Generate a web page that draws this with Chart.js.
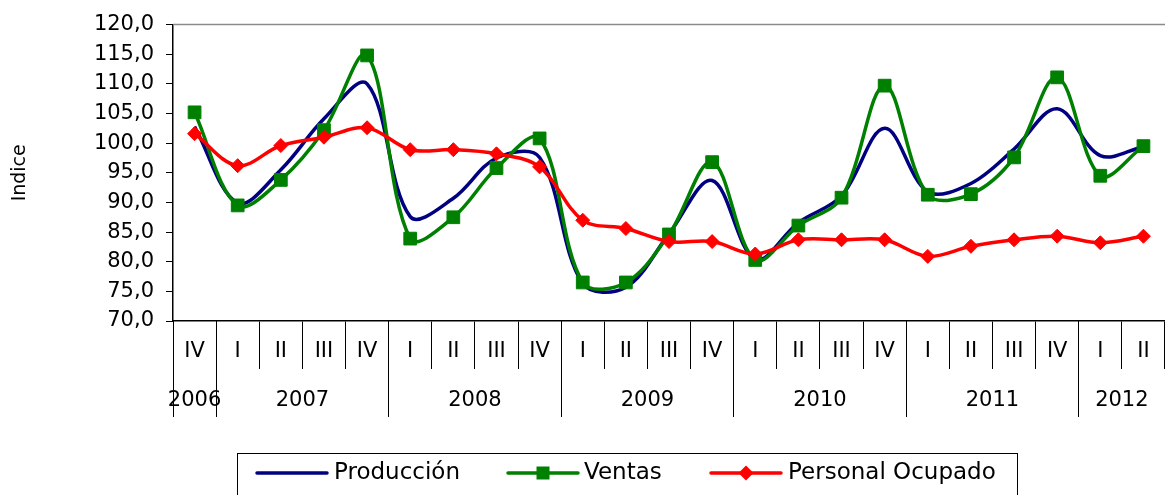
<!DOCTYPE html>
<html>
<head>
<meta charset="utf-8">
<script src="https://cdn.jsdelivr.net/npm/chart.js@4/dist/chart.umd.min.js"></script>
<style>
html,body{margin:0;padding:0;overflow:hidden;background:#fff;width:1165px;height:495px;}
#wrap{position:absolute;left:0;top:0;width:1175px;height:495px;}
</style>
</head>
<body>
<div id="wrap"><canvas id="c"></canvas></div>
<script>
// ---- data ----
const quarters = ['IV','I','II','III','IV','I','II','III','IV','I','II','III','IV','I','II','III','IV','I','II','III','IV','I','II'];
const years = ['2006','2007','2008','2009','2010','2011','2012'];
const produccion = [102.8, 89.9, 95.5, 104.1, 110.0, 87.6, 90.7, 97.5, 97.6, 76.3, 75.7, 84.7, 93.7, 80.4, 86.6, 91.1, 102.5, 91.8, 93.2, 99.0, 105.8, 97.9, 99.4];
const ventas = [105.2, 89.5, 93.8, 102.2, 114.8, 83.9, 87.5, 95.8, 100.8, 76.5, 76.5, 84.6, 96.8, 80.3, 86.1, 90.8, 109.7, 91.3, 91.4, 97.6, 111.1, 94.5, 99.5];
const personal = [101.6, 96.2, 99.6, 101.0, 102.6, 98.9, 98.9, 98.2, 96.0, 87.0, 85.6, 83.4, 83.4, 81.3, 83.7, 83.7, 83.7, 80.9, 82.6, 83.7, 84.3, 83.2, 84.3];
const yTickValues = [70, 75, 80, 85, 90, 95, 100, 105, 110, 115, 120];
const seriesNames = ['Producción', 'Ventas', 'Personal Ocupado'];

// ---- year groups derived from quarter labels ----
const yearGroups = [];
quarters.forEach((q, i) => {
  if (i === 0 || q === 'I') yearGroups.push({label: years[yearGroups.length], start: i, end: i});
  else yearGroups[yearGroups.length - 1].end = i;
});
const yearTicks = [];
yearGroups.forEach(g => {
  yearTicks.push({value: g.start - 0.5, lab: ''});
  yearTicks.push({value: (g.start + g.end) / 2, lab: g.label});
});
yearTicks.push({value: quarters.length - 0.5, lab: ''});
const yearLabelAt = v => { const t = yearTicks.find(t => Math.abs(t.value - v) < 1e-6); return t ? t.lab : ''; };

const FONT = "'DejaVu Sans', sans-serif";

const frame = {
  id: 'frame',
  beforeDatasetsDraw(chart) {
    const {ctx, chartArea: a} = chart;
    ctx.save();
    ctx.strokeStyle = '#8a8a8a';
    ctx.lineWidth = 1.5;
    ctx.beginPath();
    ctx.moveTo(a.left, a.top);
    ctx.lineTo(a.right, a.top);
    ctx.stroke();
    ctx.restore();
  }
};

const customLegend = {
  id: 'customLegend',
  afterDraw(chart) {
    const ctx = chart.ctx;
    ctx.save();
    ctx.strokeStyle = '#000';
    ctx.lineWidth = 1;
    ctx.strokeRect(237.5, 453.5, 780, 60);
    const items = [{x: 257, tx: 334}, {x: 508, tx: 584}, {x: 711, tx: 788}];
    const y = 473;
    chart.data.datasets.forEach((ds, i) => {
      const it = items[i];
      ctx.strokeStyle = ds.borderColor;
      ctx.lineWidth = 3.5;
      ctx.lineCap = 'round';
      ctx.beginPath();
      ctx.moveTo(it.x, y);
      ctx.lineTo(it.x + 70, y);
      ctx.stroke();
      const cx = it.x + 35;
      ctx.fillStyle = ds.borderColor;
      if (ds.pointStyle === 'rect') {
        ctx.fillRect(cx - 6.5, y - 6.5, 13, 13);
      } else if (ds.pointStyle === 'rectRot') {
        ctx.beginPath();
        ctx.moveTo(cx, y - 7.5); ctx.lineTo(cx + 7.5, y); ctx.lineTo(cx, y + 7.5); ctx.lineTo(cx - 7.5, y);
        ctx.closePath(); ctx.fill();
      }
      ctx.fillStyle = '#000';
      ctx.font = '23px ' + FONT;
      ctx.textBaseline = 'middle';
      ctx.textAlign = 'left';
      ctx.fillText(ds.label, it.tx, y);
    });
    ctx.restore();
  }
};

new Chart(document.getElementById('c'), {
  type: 'line',
  data: {
    labels: quarters,
    datasets: [
      {label: seriesNames[0], data: produccion, borderColor: '#000080', backgroundColor: '#000080',
       borderWidth: 3.5, pointRadius: 0, tension: 0.35, order: 3, pointStyle: false},
      {label: seriesNames[1], data: ventas, borderColor: '#008000', backgroundColor: '#008000',
       borderWidth: 3.5, pointStyle: 'rect', pointRadius: 9, pointBorderWidth: 1, pointBorderColor: '#008000',
       pointBackgroundColor: '#008000', tension: 0.35, order: 2},
      {label: seriesNames[2], data: personal, borderColor: '#ff0000', backgroundColor: '#ff0000',
       borderWidth: 3.5, pointStyle: 'rectRot', pointRadius: 7, pointBorderWidth: 1, pointBorderColor: '#ff0000',
       pointBackgroundColor: '#ff0000', tension: 0.35, order: 1}
    ]
  },
  options: {
    responsive: true,
    maintainAspectRatio: false,
    animation: false,
    devicePixelRatio: 1,
    layout: {padding: {top: 21, left: 0, right: 0, bottom: 0}},
    plugins: {legend: {display: false}, tooltip: {enabled: false}},
    scales: {
      y: {
        min: 70, max: 120,
        afterBuildTicks: s => { s.ticks = yTickValues.map(v => ({value: v})); },
        afterFit: s => { s.width = 173; },
        grid: {drawOnChartArea: false, drawTicks: true, tickLength: 7, color: '#000', lineWidth: 1},
        border: {display: true, color: '#000', width: 1.5},
        ticks: {padding: 12, color: '#000', font: {family: FONT, size: 21},
                callback: v => v.toFixed(1).replace('.', ',')},
        title: {display: true, text: 'Indice', color: '#000', font: {family: FONT, size: 19},
                padding: {top: 9, bottom: 0}}
      },
      x: {
        type: 'category',
        offset: true,
        weight: 0,
        afterFit: s => { s.height = 0; s._computeLabelArea = () => undefined; },
        grid: {offset: true, drawOnChartArea: false, drawTicks: true, tickLength: 48, color: '#000', lineWidth: 1},
        border: {display: true, color: '#000', width: 1.5},
        ticks: {autoSkip: false, maxRotation: 0, minRotation: 0, padding: -30, color: '#000',
                font: {family: FONT, size: 21}}
      },
      x2: {
        type: 'linear',
        position: 'bottom',
        weight: 1,
        min: -0.5, max: quarters.length - 0.5,
        afterBuildTicks: s => { s.ticks = yearTicks.map(t => ({value: t.value})); },
        afterFit: s => { s.height = 495 - 321; },
        grid: {drawOnChartArea: false, drawTicks: true, tickLength: 96, lineWidth: 1,
               color: ctx => (ctx.tick && yearLabelAt(ctx.tick.value) !== '') ? 'rgba(0,0,0,0)' : '#000'},
        border: {display: false},
        ticks: {autoSkip: false, maxRotation: 0, minRotation: 0, padding: -29, color: '#000',
                font: {family: FONT, size: 21},
                callback: v => yearLabelAt(v)}
      }
    }
  },
  plugins: [frame, customLegend]
});
</script>
</body>
</html>
